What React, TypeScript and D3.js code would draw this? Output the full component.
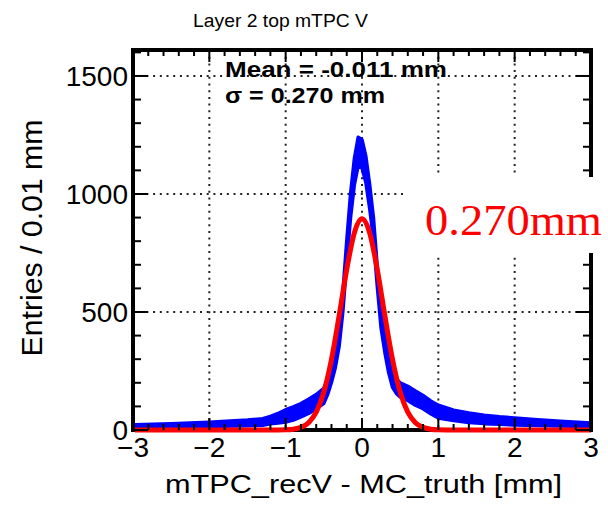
import React from 'react';
import * as d3 from 'd3';

// Histogram (blue): centre value and noise half-band
const histX = [-3.0,-2.5,-2.0,-1.5,-1.3,-1.2,-1.1,-1.0,-0.9,-0.8,-0.7,-0.6,-0.5,-0.45,-0.4,-0.35,-0.3,-0.25,-0.2,-0.15,-0.1,-0.05,0,0.05,0.1,0.15,0.2,0.25,0.3,0.35,0.4,0.45,0.5,0.6,0.7,0.8,0.9,1.0,1.2,1.4,1.6,1.8,2.0,2.3,2.6,3.0];
const histMid = [16,19,24,30,34,42,50,60,70,84,100,120,145,183,236,300,392,545,755,950,1095,1180,1170,1105,990,855,650,470,364,276,213,185,170,155,135,118,96,78,62,52,45,40,36,31,27,22];
const histHalf = [6,7,9,12,14,16,20,26,28,28,30,30,32,32,34,36,38,40,45,50,55,60,60,55,50,45,40,38,36,34,32,30,30,30,30,28,27,27,22,20,18,16,15,12,10,8];

// Fit curve (red)
const fitX = [-3,-1.2,-1.0,-0.9,-0.8,-0.7,-0.6,-0.5,-0.4,-0.3,-0.2,-0.1,0,0.1,0.2,0.3,0.4,0.5,0.6,0.7,0.8,0.9,1.0,1.2,3];
const fitY = [0,0,1,3.5,11,31,76,161,299,483,680,836,895,836,680,483,299,161,76,31,11,3.5,1,0,0];

const xTickVals = [-3,-2,-1,0,1,2,3];
const xTickLabels = ['\u22123','\u22122','\u22121','0','1','2','3'];
const yTickVals = [0,500,1000,1500];
const yTickLabels = ['0','500','1000','1500'];
const gridXVals = [-2,-1,0,1,2];
const gridYVals = [500,1000,1500];

const titleText = 'Layer 2 top mTPC V';
const meanText = 'Mean = -0.011 mm';
const sigmaText = '\u03c3 = 0.270 mm';
const xTitle = 'mTPC_recV - MC_truth [mm]';
const yTitle = 'Entries / 0.01 mm';
const noteText = '0.270mm';

const SANS = '"Liberation Sans", Arial, sans-serif';
const SERIF = '"Liberation Serif", "Times New Roman", serif';

export default function App() {
  const L = 133, R = 591, T = 50, B = 430;
  const x = d3.scaleLinear().domain([-3, 3]).range([L, R]);
  const y = d3.scaleLinear().domain([0, 1610]).range([B, T]);

  const pts = histX.map((v, i) => ({ x: v, lo: Math.max(0, histMid[i] - histHalf[i]), hi: histMid[i] + histHalf[i] }));
  const area = d3.area<any>().x(d => x(d.x)).y0(d => y(d.lo)).y1(d => y(d.hi));
  const fitPts = fitX.map((v, i) => [v, fitY[i]] as [number, number]);
  const fitLine = d3.line<[number, number]>().x(d => x(d[0])).y(d => y(d[1])).curve(d3.curveMonotoneX);

  const xMinor = d3.range(-3, 3.0001, 0.2);
  const yMinor = d3.range(0, 1601, 100);

  return (
    <svg width={608} height={507} style={{ position: 'absolute', left: 0, top: 0, background: '#fff' }}>
      <defs>
        <clipPath id="plot">
          <rect x={L + 2} y={T} width={R - L - 2} height={B - T + 4} />
        </clipPath>
      </defs>
      <rect x={0} y={0} width={608} height={507} fill="#fff" />
      {/* grid */}
      {gridXVals.map(v => (
        <line key={'gx' + v} x1={x(v)} x2={x(v)} y1={T} y2={B} stroke="#222" strokeWidth={2} strokeDasharray="2 4.7" />
      ))}
      {gridYVals.map(v => (
        <line key={'gy' + v} x1={L} x2={R} y1={y(v)} y2={y(v)} stroke="#222" strokeWidth={2} strokeDasharray="2 4.7" />
      ))}
      {/* bottom frame under data */}
      <line x1={L} x2={R} y1={B} y2={B} stroke="#000" strokeWidth={4} />
      <g clipPath="url(#plot)">
        <path d={area(pts) || ''} fill="#0000ff" stroke="#0000ff" strokeWidth={3.5} strokeLinejoin="round" />
        <path d={fitLine(fitPts) || ''} fill="none" stroke="#ff0000" strokeWidth={5} />
      </g>
      {/* frame */}
      <line x1={L} x2={L} y1={T - 2} y2={B + 2} stroke="#000" strokeWidth={4} />
      <line x1={R} x2={R} y1={T - 2} y2={B + 2} stroke="#000" strokeWidth={4} />
      <line x1={L - 2} x2={R + 2} y1={T} y2={T} stroke="#000" strokeWidth={4} />
      {/* x ticks */}
      {xMinor.map((v, i) => {
        const major = Math.abs(v - Math.round(v)) < 1e-6;
        const len = major ? 12 : 6;
        return (
          <g key={'xt' + i}>
            <line x1={x(v)} x2={x(v)} y1={B} y2={B - len} stroke="#000" strokeWidth={2} />
            <line x1={x(v)} x2={x(v)} y1={T} y2={T + len} stroke="#000" strokeWidth={2} />
          </g>
        );
      })}
      {/* y ticks */}
      {yMinor.map((v, i) => {
        const major = v % 500 === 0;
        const len = major ? 15 : 8;
        return (
          <g key={'yt' + i}>
            <line x1={L} x2={L + len} y1={y(v)} y2={y(v)} stroke="#000" strokeWidth={2} />
            <line x1={R} x2={R - len} y1={y(v)} y2={y(v)} stroke="#000" strokeWidth={2} />
          </g>
        );
      })}
      {/* tick labels */}
      {xTickVals.map((v, i) => (
        <text key={'xl' + v} x={x(v)} y={457} textAnchor="middle"
          fontFamily={SANS} fontSize={28} fill="#000">{xTickLabels[i]}</text>
      ))}
      {yTickVals.map((v, i) => (
        <text key={'yl' + v} x={128} y={y(v) + 10} textAnchor="end"
          fontFamily={SANS} fontSize={28} fill="#000">{yTickLabels[i]}</text>
      ))}
      {/* titles */}
      <text x={193} y={27} textLength={175} lengthAdjust="spacingAndGlyphs" fontFamily={SANS} fontSize={19} fill="#000">{titleText}</text>
      <text x={165} y={493} textLength={397} lengthAdjust="spacingAndGlyphs" fontFamily={SANS} fontSize={25} fill="#000">{xTitle}</text>
      <text transform={`translate(42,238) rotate(-90) scale(1,1.15)`} textAnchor="middle"
        textLength={237} lengthAdjust="spacingAndGlyphs"
        fontFamily={SANS} fontSize={25} fill="#000">{yTitle}</text>
      {/* stats */}
      <text x={225} y={77} textLength={222} lengthAdjust="spacingAndGlyphs" fontFamily={SANS} fontWeight="bold" fontSize={22} fill="#000">{meanText}</text>
      <text x={225} y={103} textLength={160} lengthAdjust="spacingAndGlyphs" fontFamily={SANS} fontWeight="bold" fontSize={22} fill="#000">{sigmaText}</text>
      {/* annotation */}
      <rect x={405} y={177} width={203} height={76} fill="#fff" />
      <text x={425} y={235} textLength={177} lengthAdjust="spacingAndGlyphs" fontFamily={SERIF} fontSize={44} fill="#ff0000">{noteText}</text>
    </svg>
  );
}
